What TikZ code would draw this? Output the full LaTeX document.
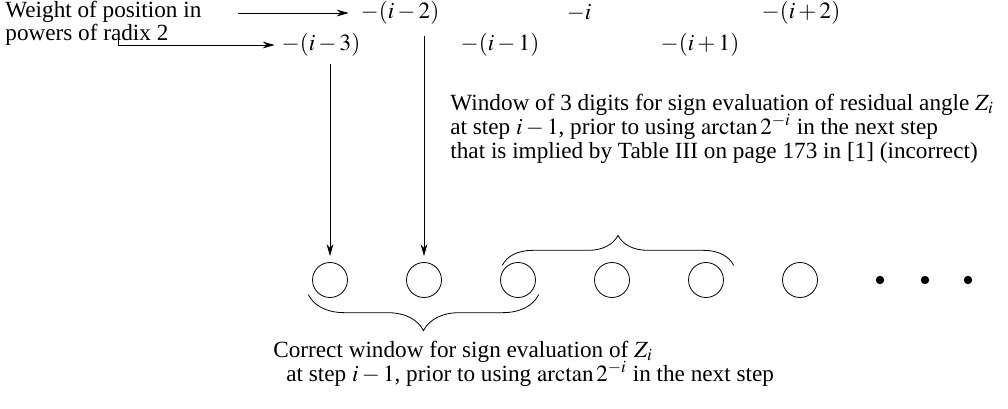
\documentclass[tikz,border=0pt]{standalone}
\usepackage{mathptmx}
\usepackage{fontspec}
\setmainfont{Liberation Serif}
\usetikzlibrary{arrows.meta}
\usetikzlibrary{decorations.pathreplacing}

\tikzset{
  txtline/.style={anchor=west, inner sep=0pt, text height=7.5pt, text depth=2.5pt},
  digit/.style={draw, circle, minimum size=17.5pt, inner sep=0pt},
  dotd/.style={fill, circle, minimum size=4.2pt, inner sep=0pt},
  wbrace/.style={decorate, decoration={brace, amplitude=#1}},
}

\begin{document}
\begin{tikzpicture}[x=.5pt, y=-.5pt, >={Stealth[length=6pt,width=3.4pt]},
  every node/.append style={font=\fontsize{11.6}{14}\selectfont}]
\useasboundingbox (0,0) rectangle (1008,408);
\node[txtline] (lbl1) at (5,12) {Weight of position in};
\node[txtline] (lbl2) at (5,35) {powers of radix 2};
\node (w2) at (400,13) {$-(i-2)$};
\node (w0) at (579,13) {$-i$};
\node (wp2) at (801,13) {$-(i+2)$};
\node (w3) at (321,45) {$-(i-3)$};
\node (w1) at (500,45) {$-(i-1)$};
\node (wp1) at (700,45) {$-(i+1)$};
\foreach \k in {1,...,6}
  \node[digit] (c\k) at (330+94*\k-94,280) {};
\foreach \k/\x in {1/880,2/925,3/968}
  \node[dotd] (d\k) at (\x,280) {};
\coordinate (t1) at (238,13);
\coordinate (t2) at (118,40);
\draw[->, shorten >=2.5pt] (t1) -- (w2.west);
\draw[->] (t2) |- (w3.west);
\draw[->] (w3.south -| c1) -- ([yshift=3pt]c1.north);
\draw[->] ([yshift=-2pt]w2.south -| c2) -- ([yshift=3pt]c2.north);
\draw[wbrace=15pt] ([shift={(-3,-2)}]c3.north west) -- ([shift={(15,-2)}]c5.north east);
\draw[wbrace=18pt] ([shift={(8,2)}]c3.south east) -- ([shift={(-9,2)}]c1.south west);
\node[txtline] (win1) at (450,105) {Window of 3 digits for sign evaluation of residual angle $Z_i$};
\node[txtline] (win2) at (450,129) {at step $i-1$, prior to using $\arctan 2^{-i}$ in the next step};
\node[txtline] (win3) at (450,153) {that is implied by Table III on page 173 in [1] (incorrect)};
\node[txtline] (corr1) at (273,352) {Correct window for sign evaluation of $Z_i$};
\node[txtline] (corr2) at (286,376) {at step $i-1$, prior to using $\arctan 2^{-i}$ in the next step};
\end{tikzpicture}
\end{document}
